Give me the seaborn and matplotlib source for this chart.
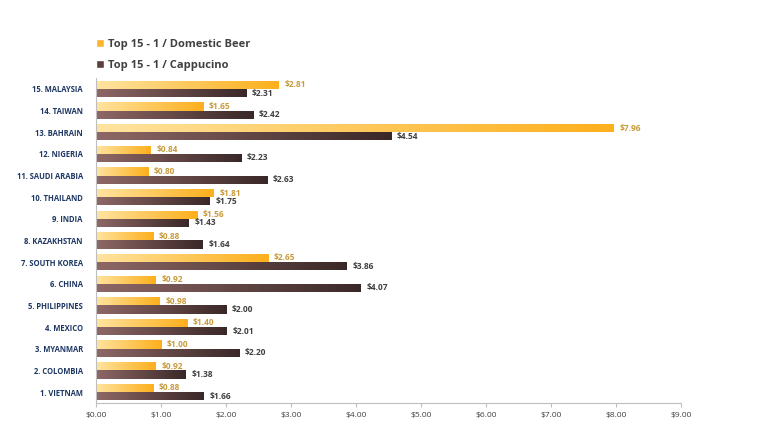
import numpy as np
import pandas as pd
import matplotlib.pyplot as plt
import matplotlib.colors as mcolors
from matplotlib.patches import Patch
import seaborn as sns

# Data (top to bottom)
countries = ["15. Malaysia", "14. Taiwan", "13. Bahrain", "12. Nigeria", "11. Saudi Arabia",
             "10. Thailand", "9. India", "8. Kazakhstan", "7. South Korea", "6. China",
             "5. Philippines", "4. Mexico", "3. Myanmar", "2. Colombia", "1. Vietnam"]
beer = [2.81, 1.65, 7.96, 0.84, 0.80, 1.81, 1.56, 0.88, 2.65, 0.92, 0.98, 1.40, 1.00, 0.92, 0.88]
cappuccino = [2.31, 2.42, 4.54, 2.23, 2.63, 1.75, 1.43, 1.64, 3.86, 4.07, 2.00, 2.01, 2.20, 1.38, 1.66]
series = ["Top 15 - 1 / Domestic Beer", "Top 15 - 1 / Cappucino"]

df = pd.DataFrame({"Country": countries * 2,
                   "Price": beer + cappuccino,
                   "Series": [series[0]] * len(countries) + [series[1]] * len(countries)})

sns.set_style("white")
plt.rcParams["font.family"] = ["Open Sans", "DejaVu Sans"]

fig = plt.figure(figsize=(7.68, 4.29), dpi=100)
ax = fig.add_axes([0.125, 0.061, 0.762, 0.757])

sns.barplot(data=df, y="Country", x="Price", hue="Series", hue_order=series,
            palette=["#FDB52A", "#5A3F3E"], width=0.76, orient="h", ax=ax, legend=False)

ax.set_xlim(0, 9)
ylim = ax.get_ylim()

# Gradient fills
grad_colors = [("#FFE4A0", "#FDAF1C"), ("#8E6866", "#3A2828")]
for i, cont in enumerate(ax.containers):
    cmap = mcolors.LinearSegmentedColormap.from_list("g%d" % i, grad_colors[i])
    for bar in cont:
        x0, y0 = bar.get_x(), bar.get_y()
        w, h = bar.get_width(), bar.get_height()
        im = ax.imshow(np.linspace(0, 1, 256).reshape(1, -1), cmap=cmap, aspect="auto",
                       extent=[x0, x0 + w, y0 + h, y0], zorder=2)
        im.set_clip_path(bar)
        bar.set_facecolor("none")
        bar.set_edgecolor("none")

ax.set_xlim(0, 9)
ax.set_ylim(ylim)

# Value labels
ax.bar_label(ax.containers[0], labels=[f"${v:.2f}" for v in beer], padding=4,
             fontsize=6, color="#C89B3C", fontweight="bold")
ax.bar_label(ax.containers[1], labels=[f"${v:.2f}" for v in cappuccino], padding=4,
             fontsize=6, color="#404040", fontweight="bold")

ax.set_xticks(np.arange(0, 10, 1))
ax.set_xticklabels([f"${v:.2f}" for v in np.arange(0, 10, 1)], fontsize=6, color="#404040")
ax.set_yticklabels([c.upper() for c in countries], fontsize=5.5, color="#1F3864", fontweight="bold")
ax.set_xlabel("")
ax.set_ylabel("")
ax.tick_params(axis="x", bottom=True, length=3, color="#BFBFBF")
ax.tick_params(axis="y", left=False, pad=6)
for s in ["top", "right"]:
    ax.spines[s].set_visible(False)
for s in ["left", "bottom"]:
    ax.spines[s].set_color("#BFBFBF")

handles = [Patch(facecolor="#FDB52A"), Patch(facecolor="#5A3F3E")]
fig.legend(handles, series, loc="upper left", bbox_to_anchor=(0.112, 0.932), frameon=False,
           handlelength=0.75, handleheight=0.75, handletextpad=0.3, labelspacing=0.85,
           prop={"size": 8, "weight": "bold"}, labelcolor="#404040")

fig.savefig("out.png", dpi=100)
